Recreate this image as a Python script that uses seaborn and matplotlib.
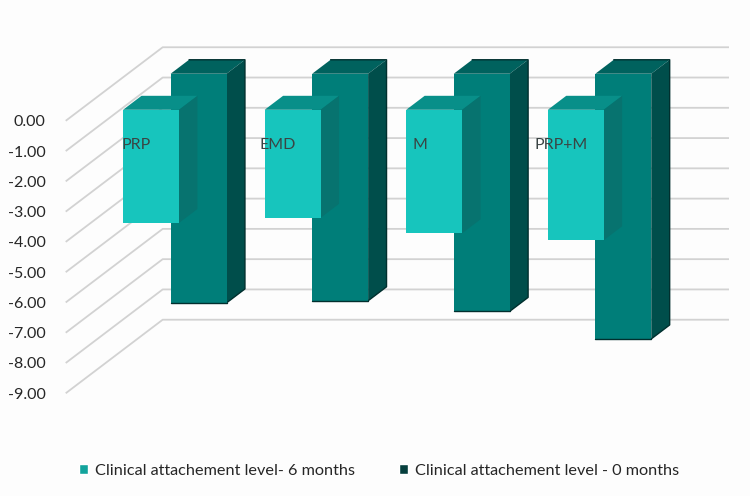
"""3D-looking grouped bars: clinical attachment level at 6 and 0 months."""

import matplotlib
matplotlib.use("Agg")
import matplotlib.pyplot as plt
import numpy as np
import seaborn as sns
from matplotlib.patches import Patch, Polygon

GROUPS = ["PRP", "EMD", "M", "PRP+M"]
CAL_6_MONTHS = [-3.74, -3.57, -4.08, -4.31]
CAL_0_MONTHS = [-7.57, -7.50, -7.85, -8.76]
LABEL_6 = "Clinical attachement level- 6 months"
LABEL_0 = "Clinical attachement level - 0 months"
Y_TICKS = [0, -1, -2, -3, -4, -5, -6, -7, -8, -9]

# Сдвиг "в глубину" для псевдо-3D: единицы осей на всю глубину стенки.
DEPTH_X = 0.685
DEPTH_Y = 2.43
BAR_WIDTH = 0.395
GRID_COLOR = "#D2D2D2"
BG_COLOR = "#FDFDFD"


def draw_series(ax, values, depth_front, depth_back, colors, zorder):
    """Передняя грань через barplot, верх и бок достраиваем полигонами."""
    front, top, side, edge = colors
    positions = np.arange(len(values)) + depth_front * DEPTH_X
    base = depth_front * DEPTH_Y
    before = len(ax.patches)
    sns.barplot(x=positions, y=values, native_scale=True, width=BAR_WIDTH,
                color=front, saturation=1, bottom=base, linewidth=0,
                zorder=zorder + 1, ax=ax)
    dx = (depth_back - depth_front) * DEPTH_X
    dy = (depth_back - depth_front) * DEPTH_Y
    for bar in list(ax.patches[before:]):
        x0, x1 = bar.get_x(), bar.get_x() + bar.get_width()
        y0 = bar.get_y()
        y1 = y0 + bar.get_height()
        ax.add_patch(Polygon([(x0, y0), (x1, y0), (x1 + dx, y0 + dy), (x0 + dx, y0 + dy)],
                             facecolor=top, edgecolor="none", zorder=zorder))
        ax.add_patch(Polygon([(x1, y0), (x1 + dx, y0 + dy), (x1 + dx, y1 + dy), (x1, y1)],
                             facecolor=side, edgecolor="none", zorder=zorder))
        if edge:
            ax.plot([x0 + dx, x1 + dx, x1 + dx, x1], [y0 + dy, y0 + dy, y1 + dy, y1],
                    color=edge, lw=1.0, zorder=zorder + 0.5)
            ax.plot([x0, x1], [y1, y1], color=edge, lw=1.0, zorder=zorder + 1.5)


sns.set_theme(style="white")
plt.rcParams["font.family"] = ["Lato", "DejaVu Sans"]

fig = plt.figure(figsize=(7.5, 4.96), dpi=100, facecolor=BG_COLOR)
# 65..729 px по x, 30..408 px по y
ax = fig.add_axes([65 / 750, 1 - 408.4 / 496, (729 - 65) / 750, (408.4 - 30) / 496])
ax.set_facecolor("none")

for tick in Y_TICKS:
    ax.plot([-0.5, -0.5 + DEPTH_X, 3.5 + DEPTH_X],
            [tick, tick + DEPTH_Y, tick + DEPTH_Y],
            color=GRID_COLOR, lw=1.3, zorder=1, solid_capstyle="butt")

draw_series(ax, CAL_0_MONTHS, 0.64, 0.83,
            ("#007E79", "#00625E", "#004E4B", "#012F2E"), 2)
draw_series(ax, CAL_6_MONTHS, 0.15, 0.34,
            ("#17C5BD", "#088F89", "#07736F", None), 5)

for i, name in enumerate(GROUPS):
    ax.text(i, -0.8, name, ha="center", va="center", fontsize=11.5,
            color="#3A4444", zorder=8)

ax.set_xlim(-0.505, 4.185)
ax.set_ylim(-9.5, 3.0)
ax.set_xticks([])
ax.set_yticks(Y_TICKS)
ax.set_yticklabels([f"{t:.2f}" for t in Y_TICKS], fontsize=11.5, color="#262626")
ax.tick_params(axis="y", length=0, pad=14)
ax.set(xlabel="", ylabel="")
sns.despine(ax=ax, left=True, bottom=True)

handles = [Patch(facecolor="#12A39C", label=LABEL_6),
           Patch(facecolor="#063F3D", label=LABEL_0)]
fig.legend(handles=handles, ncol=2, loc="center", bbox_to_anchor=(379 / 750, 1 - 471 / 496),
           frameon=False, fontsize=11.7, handlelength=0.55, handleheight=0.6,
           handletextpad=0.45, columnspacing=2.7, labelcolor="#262626")

fig.savefig("out.png", dpi=100, facecolor=BG_COLOR)
